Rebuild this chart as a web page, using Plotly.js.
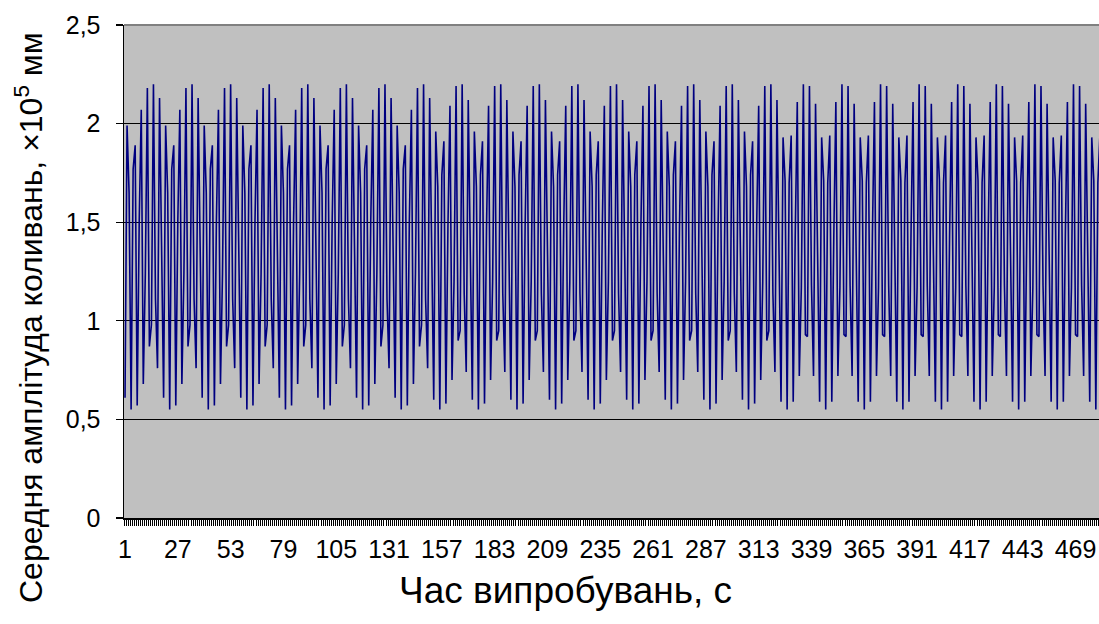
<!DOCTYPE html>
<html>
<head>
<meta charset="utf-8">
<script src="https://cdn.plot.ly/plotly-3.0.1.min.js"></script>
<style>
html, body { margin: 0; padding: 0; overflow: hidden; background: #fff; }
#chart { width: 1110px; height: 624px; }
</style>
</head>
<body>
<div id="chart"></div>
<script>
// Sample amplitudes (×10^5 mm), one value per second
const amplitude = [
0.61,1.99,1.65,0.55,1.77,1.89,0.57,1.51,2.07,0.68,1.24,2.18,0.87,0.98,2.20,1.11,0.76,2.13,1.38,
0.61,1.99,1.65,0.55,1.77,1.89,0.57,1.51,2.07,0.68,1.24,2.18,0.87,0.98,2.20,1.11,0.76,2.13,1.38,
0.61,1.99,1.65,0.55,1.77,1.89,0.57,1.51,2.07,0.68,1.24,2.18,0.87,0.98,2.20,1.11,0.76,2.13,1.38,
0.61,1.99,1.65,0.55,1.77,1.89,0.57,1.51,2.07,0.68,1.24,2.18,0.87,0.98,2.20,1.11,0.76,2.13,1.38,
0.61,1.99,1.65,0.55,1.77,1.89,0.57,1.51,2.07,0.68,1.24,2.18,0.87,0.98,2.20,1.11,0.76,2.13,1.38,
0.61,1.99,1.65,0.55,1.77,1.89,0.57,1.51,2.07,0.68,1.24,2.18,0.87,0.98,2.20,1.11,0.76,2.13,1.38,
0.61,1.99,1.65,0.55,1.77,1.89,0.57,1.51,2.07,0.68,1.24,2.18,0.87,0.98,2.20,1.11,0.76,2.13,1.38,
0.61,1.99,1.65,0.55,1.77,1.89,0.57,1.51,2.07,0.68,1.24,2.18,0.87,0.98,2.20,1.11,0.76,2.13,1.38,
0.60,1.96,1.68,0.55,1.74,1.91,0.58,1.48,2.09,0.70,1.20,2.19,0.90,0.95,2.20,1.14,0.74,2.12,1.41,
0.60,1.96,1.68,0.55,1.74,1.91,0.58,1.48,2.09,0.70,1.20,2.19,0.90,0.95,2.20,1.14,0.74,2.12,1.41,
0.60,1.96,1.68,0.55,1.74,1.91,0.58,1.48,2.09,0.70,1.20,2.19,0.90,0.95,2.20,1.14,0.74,2.12,1.41,
0.60,1.96,1.68,0.55,1.74,1.91,0.58,1.48,2.09,0.70,1.20,2.19,0.90,0.95,2.20,1.14,0.74,2.12,1.41,
0.60,1.96,1.68,0.55,1.74,1.91,0.58,1.48,2.09,0.70,1.20,2.19,0.90,0.95,2.20,1.14,0.74,2.12,1.41,
0.60,1.96,1.68,0.55,1.74,1.91,0.58,1.48,2.09,0.70,1.20,2.19,0.90,0.95,2.20,1.14,0.74,2.12,1.41,
0.60,1.96,1.68,0.55,1.74,1.91,0.58,1.48,2.09,0.70,1.20,2.19,0.90,0.95,2.20,1.14,0.74,2.12,1.41,
0.60,1.96,1.68,0.55,1.74,1.91,0.58,1.48,2.09,0.70,1.20,2.19,0.90,0.95,2.20,1.14,0.74,2.12,1.41,
0.60,1.96,1.68,0.55,1.74,1.91,0.58,1.48,2.09,0.70,1.20,2.19,0.90,0.95,2.20,1.14,0.74,2.12,1.41,
0.59,1.93,1.71,0.55,1.70,1.94,0.59,1.44,2.11,0.72,1.17,2.20,0.93,0.92,2.19,1.18,0.72,2.10,1.45,
0.59,1.93,1.71,0.55,1.70,1.94,0.59,1.44,2.11,0.72,1.17,2.20,0.93,0.92,2.19,1.18,0.72,2.10,1.45,
0.59,1.93,1.71,0.55,1.70,1.94,0.59,1.44,2.11,0.72,1.17,2.20,0.93,0.92,2.19,1.18,0.72,2.10,1.45,
0.59,1.93,1.71,0.55,1.70,1.94,0.59,1.44,2.11,0.72,1.17,2.20,0.93,0.92,2.19,1.18,0.72,2.10,1.45,
0.59,1.93,1.71,0.55,1.70,1.94,0.59,1.44,2.11,0.72,1.17,2.20,0.93,0.92,2.19,1.18,0.72,2.10,1.45,
0.59,1.93,1.71,0.55,1.70,1.94,0.59,1.44,2.11,0.72,1.17,2.20,0.93,0.92,2.19,1.18,0.72,2.10,1.45,
0.59,1.93,1.71,0.55,1.70,1.94,0.59,1.44,2.11,0.72,1.17,2.20,0.93,0.92,2.19,1.18,0.72,2.10,1.45,
0.59,1.93,1.71,0.55,1.70,1.94,0.59,1.44,2.11,0.72,1.17,2.20,0.93,0.92,2.19,1.18,0.72,2.10,1.45,
0.59,1.93,1.71,0.55,1.70,1.94,0.59,1.44,2.11
];

// Category tick labels shown on the time axis (s)
const timeTickLabels = [1, 27, 53, 79, 105, 131, 157, 183, 209, 235, 261, 287, 313, 339, 365, 391, 417, 443, 469];

// Value axis ticks
const yTicks = [0, 0.5, 1, 1.5, 2, 2.5];

const xTitle = 'Час випробувань, с';
const yTitle = 'Середня амплітуда коливань, ×10<sup>5</sup> мм';

const FONT = 'Liberation Sans, Arial, sans-serif';
const nPts = amplitude.length;

const trace = {
  type: 'scatter',
  mode: 'lines',
  x0: 1,
  dx: 1,
  y: amplitude,
  line: { color: '#000080', width: 1.6 },
  hoverinfo: 'skip'
};

const plotW = 1110 - 124 - 3;
const plotH = 624 - 25 - 106;

const layout = {
  width: 1110,
  height: 624,
  margin: { l: 124, r: 3, t: 25, b: 106 },
  paper_bgcolor: '#ffffff',
  plot_bgcolor: '#c0c0c0',
  separators: ', ',
  showlegend: false,
  font: { family: FONT, color: '#000', size: 25 },
  xaxis: {
    range: [0.5, nPts + 0.5],
    tickmode: 'array',
    tickvals: timeTickLabels,
    ticktext: timeTickLabels.map(String),
    ticks: '',
    ticklabelstandoff: 8,
    tickangle: 0,
    showgrid: false,
    zeroline: false,
    showline: true,
    linecolor: '#000',
    linewidth: 1.5,
    tickfont: { family: FONT, size: 25, color: '#000' },
    minor: {
      tickmode: 'linear',
      tick0: 0.5,
      dtick: 1,
      ticks: 'outside',
      ticklen: 6,
      tickwidth: 1,
      tickcolor: '#000',
      showgrid: false
    }
  },
  yaxis: {
    range: [0, 2.5],
    tickmode: 'array',
    tickvals: yTicks,
    ticks: 'outside',
    ticklen: 7,
    tickwidth: 1.2,
    tickcolor: '#000',
    ticklabelstandoff: 10,
    showgrid: true,
    gridcolor: '#000',
    gridwidth: 1.2,
    zeroline: false,
    showline: true,
    linecolor: '#000',
    linewidth: 1.5,
    tickfont: { family: FONT, size: 25, color: '#000' }
  },
  shapes: [
    { type: 'line', xref: 'paper', yref: 'paper', x0: 0, x1: 1, y0: 1, y1: 1,
      line: { color: '#808080', width: 2 }, layer: 'above' }
  ],
  annotations: [
    { text: xTitle, xref: 'paper', yref: 'paper',
      x: (565 - 124) / plotW, y: -(590 - 518) / plotH,
      xanchor: 'center', yanchor: 'middle', showarrow: false,
      font: { family: FONT, size: 37, color: '#000' } },
    { text: yTitle, xref: 'paper', yref: 'paper', textangle: -90,
      x: (29 - 124) / plotW, y: (518 - 318) / plotH,
      xanchor: 'center', yanchor: 'middle', showarrow: false,
      font: { family: FONT, size: 32, color: '#000' } }
  ]
};

Plotly.newPlot('chart', [trace], layout, { staticPlot: true, displayModeBar: false, responsive: false });
</script>
</body>
</html>
